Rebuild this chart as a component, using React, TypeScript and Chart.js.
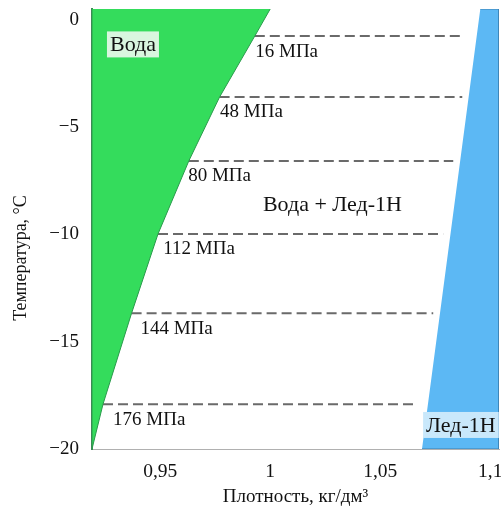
import React, { useEffect, useRef } from "react";
import { Chart, registerables } from "chart.js";

Chart.register(...registerables);

// Phase boundary: water (liquid) limit, density vs temperature
const waterBoundaryDensity = [1.0, 0.993, 0.977, 0.963, 0.949, 0.937, 0.924, 0.919];
const waterBoundaryTemp = [0.5, -0.76, -3.6, -6.58, -9.98, -13.67, -17.91, -20];

// Ice-1h boundary
const iceBoundaryDensity = [1.0955, 1.069];
const iceBoundaryTemp = [0.5, -20];

// Isobars
const isobarLabels = ["16 МПа", "48 МПа", "80 МПа", "112 МПа", "144 МПа", "176 МПа"];
const isobarTemp = [-0.76, -3.6, -6.58, -9.98, -13.67, -17.91];
const isobarStart = [0.993, 0.977, 0.963, 0.949, 0.937, 0.924];
const isobarEnd = [1.0877, 1.0873, 1.0832, 1.0786, 1.0741, 1.0668];
const isobarLabelDensity = [0.9932, 0.9772, 0.9627, 0.9514, 0.941, 0.9286];

const xTicks = [0.95, 1, 1.05, 1.1];
const xTickLabels = ["0,95", "1", "1,05", "1,1"];
const yTicks = [0, -5, -10, -15, -20];
const yTickLabels = ["0", "−5", "−10", "−15", "−20"];

const X_MIN = 0.919;
const X_MAX = 1.104;
const Y_MIN = -20;
const Y_MAX = 0.5;

const SERIF = '"Liberation Serif", "Times New Roman", serif';

export default function App() {
  const ref = useRef<HTMLCanvasElement | null>(null);

  useEffect(() => {
    if (!ref.current) return;

    const greenPoly = waterBoundaryDensity.map((d, i) => ({ x: d, y: waterBoundaryTemp[i] }));
    greenPoly.push({ x: X_MIN, y: Y_MIN }, { x: X_MIN, y: Y_MAX });

    const bluePoly = [
      { x: iceBoundaryDensity[0], y: iceBoundaryTemp[0] },
      { x: X_MAX, y: Y_MAX },
      { x: X_MAX, y: Y_MIN },
      { x: iceBoundaryDensity[1], y: iceBoundaryTemp[1] },
    ];

    const isobarSets = isobarTemp.map((t, i) => ({
      label: isobarLabels[i],
      data: [
        { x: isobarStart[i], y: t },
        { x: isobarEnd[i], y: t },
      ],
      showLine: true,
      borderColor: "#6a6a6a",
      borderWidth: 2,
      borderDash: [10, 5],
      pointRadius: 0,
      fill: false,
    }));

    const labelPlugin = {
      id: "labels",
      afterDatasetsDraw(chart: any) {
        const ctx = chart.ctx;
        const xs = chart.scales.x;
        const ys = chart.scales.y;
        ctx.save();
        ctx.fillStyle = "#111";
        ctx.textBaseline = "middle";
        ctx.textAlign = "left";
        ctx.font = `19px ${SERIF}`;
        isobarLabels.forEach((lab, i) => {
          const px = xs.getPixelForValue(isobarLabelDensity[i]);
          const py = ys.getPixelForValue(isobarTemp[i]) + 15.5;
          ctx.fillText(lab, px, py);
        });

        // Region labels
        ctx.font = `22px ${SERIF}`;
        const drawBoxed = (text: string, dx: number, ty: number, bg: string) => {
          const px = xs.getPixelForValue(dx);
          const py = ys.getPixelForValue(ty);
          const w = ctx.measureText(text).width;
          ctx.fillStyle = bg;
          ctx.fillRect(px, py - 13, w + 6, 26);
          ctx.fillStyle = "#111";
          ctx.fillText(text, px + 3, py + 1);
        };
        drawBoxed("Вода", 0.9258, -1.15, "#d9f6df");
        drawBoxed("Лед-1Н", 1.0695, -18.88, "#c9e8fb");

        ctx.fillStyle = "#111";
        ctx.font = `22px ${SERIF}`;
        ctx.fillText("Вода + Лед-1Н", xs.getPixelForValue(0.9967), ys.getPixelForValue(-8.63));

        // Y axis title
        ctx.save();
        ctx.translate(21, 258);
        ctx.rotate(-Math.PI / 2);
        ctx.textAlign = "center";
        ctx.font = `18px ${SERIF}`;
        ctx.fillText("Температура, °С", 0, 0);
        ctx.restore();

        ctx.restore();
      },
    };

    const chart = new Chart(ref.current, {
      type: "scatter",
      data: {
        datasets: [
          {
            label: "Вода",
            data: greenPoly,
            showLine: true,
            fill: "shape",
            backgroundColor: "#34dc5c",
            borderColor: "#2a9b4c",
            borderWidth: 1,
            pointRadius: 0,
            tension: 0,
          },
          {
            label: "Лед-1Н",
            data: bluePoly,
            showLine: true,
            fill: "shape",
            backgroundColor: "#5cb8f4",
            borderColor: "#3a7fb0",
            borderWidth: 1,
            pointRadius: 0,
          },
          ...isobarSets,
        ],
      } as any,
      options: {
        animation: false,
        responsive: false,
        maintainAspectRatio: false,
        layout: { padding: { left: 0, right: 2, top: 9, bottom: 0 } },
        plugins: {
          legend: { display: false },
          tooltip: { enabled: false },
        },
        scales: {
          x: {
            type: "linear",
            min: X_MIN,
            max: X_MAX,
            afterBuildTicks: (s: any) => {
              s.ticks = xTicks.map((v) => ({ value: v }));
            },
            afterFit: (s: any) => {
              s.height = 59;
              s.paddingLeft = 0;
              s.paddingRight = 0;
            },
            grid: { display: false, drawTicks: false },
            border: { display: true, color: "#b0b0b0", width: 1 },
            ticks: {
              color: "#111",
              font: { family: SERIF, size: 19.5 },
              padding: 11,
              maxRotation: 0,
              callback: (v: any) => {
                const i = xTicks.findIndex((t) => Math.abs(t - v) < 1e-9);
                return i >= 0 ? xTickLabels[i] : "";
              },
            },
            title: {
              display: true,
              text: "Плотность, кг/дм³",
              color: "#111",
              font: { family: SERIF, size: 19 },
              padding: { top: 2, bottom: 0 },
            },
          },
          y: {
            type: "linear",
            min: Y_MIN,
            max: Y_MAX,
            afterBuildTicks: (s: any) => {
              s.ticks = yTicks.map((v) => ({ value: v }));
            },
            afterFit: (s: any) => {
              s.width = 92;
              s.paddingTop = 0;
              s.paddingBottom = 0;
            },
            grid: { display: false, drawTicks: false },
            border: { display: true, color: "#3c8a55", width: 2 },
            ticks: {
              color: "#111",
              font: { family: SERIF, size: 19 },
              padding: 13,
              callback: (v: any) => {
                const i = yTicks.findIndex((t) => Math.abs(t - v) < 1e-9);
                return i >= 0 ? yTickLabels[i] : "";
              },
            },
          },
        },
      } as any,
      plugins: [labelPlugin],
    });

    return () => chart.destroy();
  }, []);

  return (
    <div style={{ position: "fixed", left: 0, top: 0, width: 501, height: 508, background: "#fff" }}>
      <canvas ref={ref} width={501} height={508} style={{ width: 501, height: 508, display: "block" }} />
    </div>
  );
}
